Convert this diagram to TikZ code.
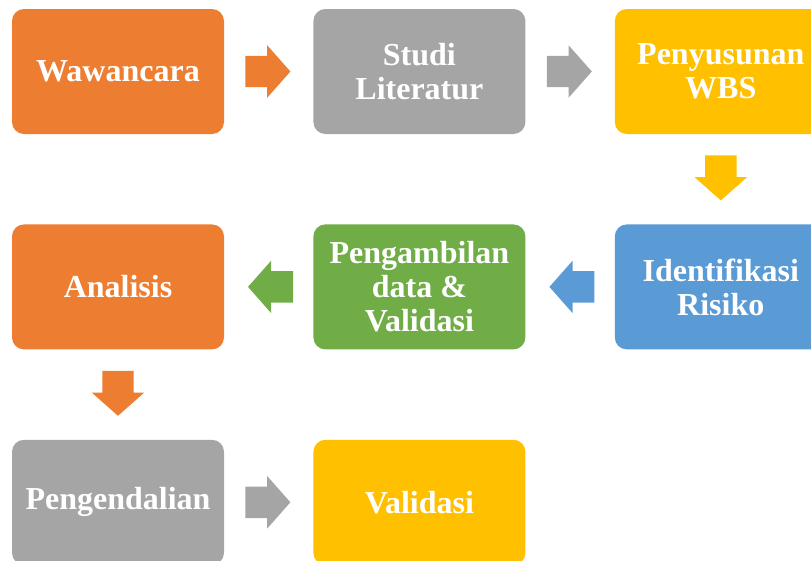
\documentclass[tikz,border=0pt]{standalone}
\usepackage{fontspec}
\setmainfont{Liberation Serif}
\usetikzlibrary{positioning, shapes.arrows, calc}

\definecolor{boxorange}{HTML}{ED7D31}
\definecolor{boxgrey}{HTML}{A5A5A5}
\definecolor{boxgold}{HTML}{FFC000}
\definecolor{boxblue}{HTML}{5B9BD5}
\definecolor{boxgreen}{HTML}{70AD47}

\begin{document}
\begin{tikzpicture}[node distance=90pt and 89pt]
    % Define styles
    \tikzstyle{stage} = [rectangle, rounded corners=12pt, minimum width=212pt, minimum height=125pt, align=center, text=white, font=\fontsize{32}{34}\selectfont\bfseries, inner sep=0pt]
    \tikzstyle{blockarrow} = [single arrow, draw=none, anchor=tail, minimum height=45pt, text height=31pt, text depth=0pt, inner sep=0pt, single arrow head extend=10.5pt, single arrow tip angle=97]

    \useasboundingbox (0,0) rectangle (811pt,-560pt);

    % Nodes
    \node (waw) [stage, fill=boxorange] at (118pt,-71.5pt) {Wawancara};
    \node (studi) [stage, fill=boxgrey, right=of waw] {Studi\\Literatur};
    \node (wbs) [stage, fill=boxgold, right=of studi] {Penyusunan\\WBS};
    \node (risiko) [stage, fill=boxblue, below=of wbs] {Identifikasi\\Risiko};
    \node (ambil) [stage, fill=boxgreen, left=of risiko] {Pengambilan\\data \&\\Validasi};
    \node (analisis) [stage, fill=boxorange, left=of ambil] {Analisis};
    \node (kendali) [stage, fill=boxgrey, below=of analisis] {Pengendalian};
    \node (valid) [stage, fill=boxgold, right=of kendali] {Validasi};

    % Arrows
    \node (a1) [blockarrow, fill=boxorange] at ($(waw.east)!21pt!(studi.west)$) {};
    \node (a2) [blockarrow, fill=boxgrey] at ($(studi.east)!21pt!(wbs.west)$) {};
    \node (a3) [blockarrow, fill=boxgold, rotate=-90] at ($(wbs.south)!21pt!(risiko.north)$) {};
    \node (a4) [blockarrow, fill=boxblue, rotate=180] at ($(risiko.west)!20pt!(ambil.east)$) {};
    \node (a5) [blockarrow, fill=boxgreen, rotate=180] at ($(ambil.west)!20pt!(analisis.east)$) {};
    \node (a6) [blockarrow, fill=boxorange, rotate=-90] at ($(analisis.south)!21pt!(kendali.north)$) {};
    \node (a7) [blockarrow, fill=boxgrey] at ($(kendali.east)!21pt!(valid.west)$) {};
\end{tikzpicture}
\end{document}
